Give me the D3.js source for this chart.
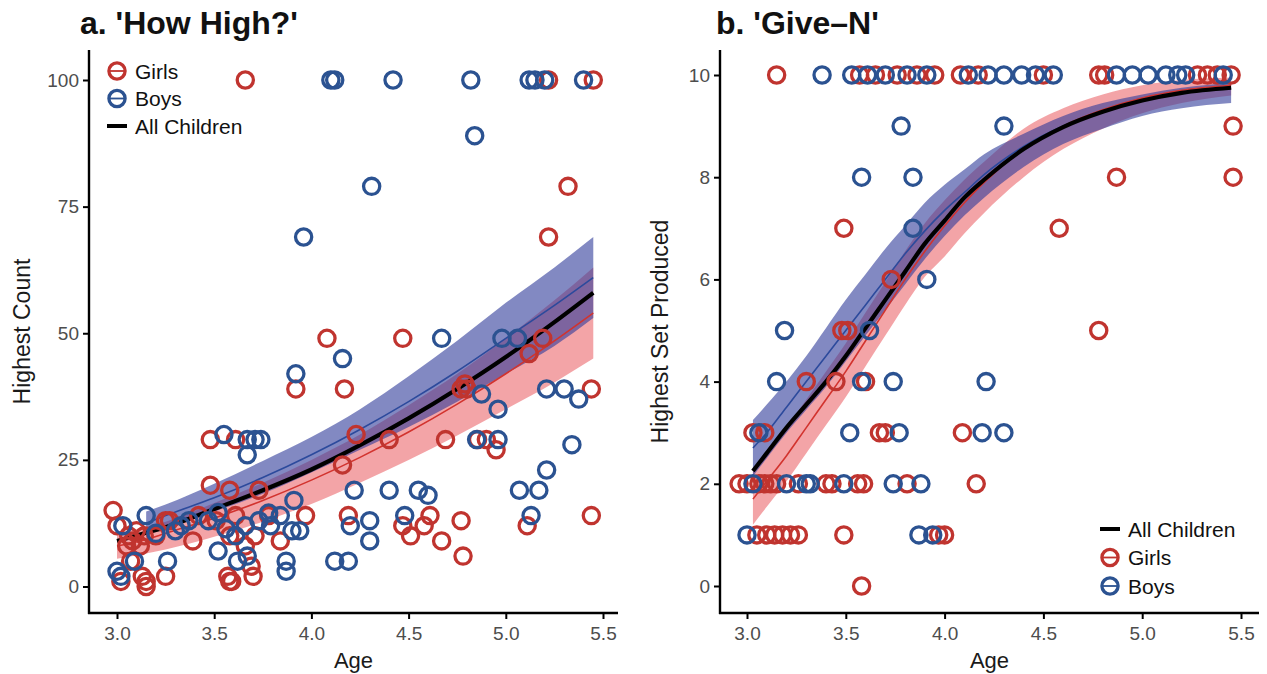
<!DOCTYPE html>
<html><head><meta charset="utf-8">
<script src="https://cdn.jsdelivr.net/npm/d3@7"></script>
<style>
body{margin:0;background:#fff}
text{font-family:"Liberation Sans",Arial,Helvetica,sans-serif}
</style>
</head><body>
<svg id="chart" width="1267" height="674"></svg>
<script>
// ---------- tick labels ----------
const ageTicks = [3.0, 3.5, 4.0, 4.5, 5.0, 5.5];
const countTicks = [0, 25, 50, 75, 100];
const setTicks = [0, 2, 4, 6, 8, 10];

// ---------- panel a: 'How High?' points [age, highest count] ----------
const hhGirls = [[3.66,100],[5.22,100],[5.45,100],[5.32,79],[5.22,69],[4.08,49],[4.47,49],[5.19,49],[5.12,46],
 [3.92,39],[4.17,39],[4.77,39],[4.79,40],[4.80,39],[5.44,39],[4.23,30],[4.40,29],[4.69,29],[4.855,29],[4.90,29],[4.95,27],
 [3.48,29],[3.61,29],[4.16,24],[3.48,20],[3.58,19],[3.73,19],[2.98,15],[3.00,12],[3.06,10],[3.08,9],[3.10,11],[3.12,8],
 [3.14,10],[3.05,8],[3.25,13],[3.27,13],[3.20,10],[3.39,9],[3.42,14],[3.51,13],[3.58,10],[3.61,14],[3.66,8],[3.71,10],
 [3.78,14],[3.84,9],[3.97,14],[4.19,14],[4.47,12],[4.51,10],[4.58,12],[4.61,14],[4.67,9],[4.77,13],[4.78,6],[5.11,12],
 [5.44,14],[3.02,1],[3.07,5],[3.13,2],[3.15,0],[3.15,1],[3.25,2],[3.57,2],[3.58,1],[3.59,1],[3.69,4],[3.70,2]];
const hhBoys = [[4.10,100],[4.12,100],[4.42,100],[4.82,100],[5.12,100],[5.15,100],[5.20,100],[5.40,100],[4.84,89],
 [4.31,79],[3.96,69],[4.67,49],[4.98,49],[5.06,49],[4.16,45],[3.92,42],[4.875,38],[5.21,39],[5.30,39],[5.375,37],[4.96,35],
 [3.55,30],[3.67,29],[3.71,29],[3.74,29],[3.67,26],[4.85,29],[4.96,29],[5.34,28],[5.21,23],[5.07,19],[5.17,19],[4.22,19],
 [4.40,19],[4.55,19],[4.60,18],[3.91,17],[3.15,14],[3.03,12],[3.20,10.5],[3.30,11],[3.33,12],[3.37,13],[3.47,13],
 [3.52,14.6],[3.56,11.4],[3.61,10],[3.66,12],[3.73,13],[3.78,14.5],[3.79,12],[3.84,14],[3.90,11],[3.94,11],[4.48,14],
 [4.20,12],[4.30,13],[4.30,9],[5.13,14],[3.52,7],[3.62,5],[3.67,6],[3.87,5],[3.87,3],[4.12,5],[4.19,5],[3.00,3],[3.02,2],
 [3.09,5],[3.26,5]];

// panel a fitted curves
const hhAge      = [3.0, 3.15, 3.25, 3.5, 3.75, 4.0, 4.25, 4.5, 4.75, 5.0, 5.25, 5.45];
const hhAllFit   = [9, 10.6, 11.7, 15.3, 19, 23.1, 27.9, 33.2, 39, 45.3, 52.2, 58];
const hhGirlFit  = [8, 9.3, 10.5, 13.5, 17, 21, 25.5, 30.5, 36, 42, 48.5, 54];
const hhGirlLo   = [5.5, 6.5, 7.3, 9.8, 12.8, 16.3, 20.5, 25, 29.8, 35, 40.3, 45];
const hhGirlHi   = [10.5, 11.8, 12.8, 16.5, 20.5, 25, 30, 35.8, 42, 49, 56.5, 63];
const hhBoyAge   = [3.15, 3.25, 3.5, 3.75, 4.0, 4.25, 4.5, 4.75, 5.0, 5.25, 5.45];
const hhBoyFit   = [12.5, 14, 17.5, 21.5, 26, 31, 36.5, 42.5, 49, 55.5, 61];
const hhBoyLo    = [10.5, 11.8, 14.8, 18.3, 22.5, 27, 31.5, 36.5, 42, 47.5, 53];
const hhBoyHi    = [14.8, 16.2, 20.3, 24.8, 29.5, 35, 41.5, 48.5, 56, 63, 69];

// ---------- panel b: 'Give-N' points [age, highest set] ----------
const gnGirls = [[3.15,10],[3.57,10],[3.65,10],[3.76,10],[3.86,10],[3.95,10],[4.08,10],[4.17,10],[4.50,10],[4.78,10],
 [4.81,10],[5.28,10],[5.33,10],[5.38,10],[5.45,10],[5.46,9],[4.87,8],[5.46,8],[3.49,7],[4.58,7],[3.73,6],[3.48,5],[3.51,5],
 [4.78,5],[3.30,4],[3.45,4],[3.60,4],[3.03,3],[3.09,3],[3.67,3],[3.70,3],[4.09,3],[2.96,2],[3.00,2],[3.06,2],[3.09,2],
 [3.12,2],[3.15,2],[3.26,2],[3.40,2],[3.43,2],[3.56,2],[3.59,2],[3.81,2],[4.16,2],[3.05,1],[3.10,1],[3.14,1],[3.18,1],
 [3.22,1],[3.26,1],[3.49,1],[3.97,1],[4.00,1],[3.58,0]];
const gnBoys = [[3.38,10],[3.53,10],[3.61,10],[3.70,10],[3.81,10],[3.91,10],[4.12,10],[4.22,10],[4.30,10],[4.39,10],
 [4.46,10],[4.55,10],[4.87,10],[4.95,10],[5.03,10],[5.12,10],[5.18,10],[5.22,10],[5.41,10],[3.78,9],[4.30,9],[3.58,8],
 [3.84,8],[3.84,7],[3.91,6],[3.19,5],[3.62,5],[3.15,4],[3.58,4],[3.74,4],[4.21,4],[3.06,3],[3.52,3],[3.77,3],[4.19,3],
 [4.30,3],[3.03,2],[3.20,2],[3.30,2],[3.32,2],[3.49,2],[3.74,2],[3.88,2],[3.00,1],[3.87,1],[3.94,1]];

// panel b fitted curves
const gnAge     = [3.03, 3.1, 3.2, 3.3, 3.4, 3.5, 3.6, 3.7, 3.8, 3.9, 4.0, 4.1, 4.2, 4.4, 4.6, 4.8, 5.0, 5.2, 5.45];
const gnAllFit  = [2.25, 2.6, 3.1, 3.55, 4.0, 4.5, 5.05, 5.6, 6.15, 6.7, 7.15, 7.6, 7.95, 8.55, 8.98, 9.28, 9.5, 9.65, 9.75];
const gnBoyFit  = [2.7, 3.0, 3.5, 4.0, 4.5, 5.0, 5.5, 6.0, 6.5, 6.95, 7.35, 7.7, 8.05, 8.6, 9.0, 9.28, 9.5, 9.65, 9.73];
const gnGirlFit = [1.7, 2.05, 2.55, 3.1, 3.65, 4.2, 4.8, 5.4, 6.0, 6.55, 7.05, 7.5, 7.9, 8.55, 9.0, 9.32, 9.55, 9.7, 9.8];
const gnBoyLo   = [2.15, 2.5, 3.0, 3.45, 3.9, 4.4, 4.9, 5.4, 5.9, 6.4, 6.85, 7.25, 7.6, 8.2, 8.65, 8.95, 9.2, 9.35, 9.45];
const gnBoyHi   = [3.25, 3.55, 4.0, 4.5, 5.05, 5.6, 6.1, 6.6, 7.05, 7.5, 7.85, 8.15, 8.45, 8.85, 9.2, 9.45, 9.62, 9.75, 9.85];
const gnGirlLo  = [1.2, 1.55, 2.05, 2.6, 3.15, 3.7, 4.3, 4.9, 5.5, 6.05, 6.45, 6.9, 7.3, 8.0, 8.55, 8.95, 9.25, 9.45, 9.6];
const gnGirlHi  = [2.25, 2.6, 3.1, 3.65, 4.2, 4.75, 5.35, 5.95, 6.55, 7.1, 7.55, 7.95, 8.3, 8.95, 9.35, 9.62, 9.8, 9.9, 9.95];

// ---------- styles ----------
const RED = "#c0342f", BLUE = "#2b5291";
const RED_LINE = "#d2332e", BLUE_LINE = "#2c4a9c";
const RED_FILL = "#ea5a5f", BLUE_FILL = "#2e3a9a";
const PT_R = 8.1, PT_W = 3.3;

const svg = d3.select("#chart");

function drawPanel(cfg) {
  const g = svg.append("g");
  const x = d3.scaleLinear().domain([3.0, 5.5]).range(cfg.xr);
  const y = d3.scaleLinear().domain(cfg.yd).range(cfg.yr);
  const zip = (ax, ay) => ax.map((a, i) => [a, ay[i]]);

  const area = d3.area().x(d => x(d[0])).y0(d => y(d[1])).y1(d => y(d[2])).curve(d3.curveMonotoneX);
  const line = d3.line().x(d => x(d[0])).y(d => y(d[1])).curve(d3.curveMonotoneX);

  // ribbons
  g.append("path").datum(cfg.girlAge.map((a, i) => [a, cfg.girlLo[i], cfg.girlHi[i]]))
    .attr("d", area).attr("fill", RED_FILL).attr("fill-opacity", 0.55);
  g.append("path").datum(cfg.boyAge.map((a, i) => [a, cfg.boyLo[i], cfg.boyHi[i]]))
    .attr("d", area).attr("fill", BLUE_FILL).attr("fill-opacity", 0.6);
  // lines
  g.append("path").datum(zip(cfg.girlAge, cfg.girlFit)).attr("d", line)
    .attr("fill", "none").attr("stroke", RED_LINE).attr("stroke-width", 1.6);
  g.append("path").datum(zip(cfg.boyAge, cfg.boyFit)).attr("d", line)
    .attr("fill", "none").attr("stroke", BLUE_LINE).attr("stroke-width", 1.6);
  g.append("path").datum(zip(cfg.allAge, cfg.allFit)).attr("d", line)
    .attr("fill", "none").attr("stroke", "#000").attr("stroke-width", 4.2);

  // points
  g.append("g").selectAll("circle").data(cfg.girls).join("circle")
    .attr("cx", d => x(d[0])).attr("cy", d => y(d[1])).attr("r", PT_R)
    .attr("fill", "none").attr("stroke", RED).attr("stroke-width", PT_W);
  g.append("g").selectAll("circle").data(cfg.boys).join("circle")
    .attr("cx", d => x(d[0])).attr("cy", d => y(d[1])).attr("r", PT_R)
    .attr("fill", "none").attr("stroke", BLUE).attr("stroke-width", PT_W);

  // axes
  const b = cfg.box;
  const xa = g.append("g").attr("transform", `translate(0,${b.bottom})`)
    .call(d3.axisBottom(x).tickValues(ageTicks).tickFormat(d3.format(".1f")).tickSize(6).tickPadding(8));
  const ya = g.append("g").attr("transform", `translate(${b.left},0)`)
    .call(d3.axisLeft(y).tickValues(cfg.yTicks).tickFormat(d3.format("d")).tickSize(6).tickPadding(4));
  [xa, ya].forEach(a => {
    a.select(".domain").remove();
    a.selectAll("line").attr("stroke", "#000").attr("stroke-width", 2);
    a.selectAll("text").attr("font-size", 19).attr("fill", "#4d4d4d")
      .attr("font-family", '"Liberation Sans",Arial,sans-serif');
  });
  g.append("line").attr("x1", b.left).attr("x2", b.left).attr("y1", b.top).attr("y2", b.bottom + 1)
    .attr("stroke", "#000").attr("stroke-width", 2.4);
  g.append("line").attr("x1", b.left - 1).attr("x2", b.right).attr("y1", b.bottom).attr("y2", b.bottom)
    .attr("stroke", "#000").attr("stroke-width", 2.4);

  // axis titles
  g.append("text").attr("x", (b.left + b.right) / 2).attr("y", 668).attr("text-anchor", "middle")
    .attr("font-size", 22).attr("fill", "#1a1a1a").text("Age");
  g.append("text").attr("transform", `translate(${cfg.yTitleX},${(b.top + b.bottom) / 2}) rotate(-90)`)
    .attr("text-anchor", "middle").attr("font-size", 23).attr("fill", "#1a1a1a").text(cfg.yTitle);
  // panel title
  g.append("text").attr("x", cfg.titleX).attr("y", 34).attr("font-size", 32).attr("font-weight", "bold")
    .attr("fill", "#111").text(cfg.title);

  // legend
  const lg = g.append("g");
  cfg.legend.items.forEach((it, i) => {
    const cy = cfg.legend.y0 + i * cfg.legend.dy;
    const cx = cfg.legend.x;
    if (it.type === "line") {
      lg.append("line").attr("x1", cx - 10).attr("x2", cx + 10).attr("y1", cy).attr("y2", cy)
        .attr("stroke", "#000").attr("stroke-width", 4);
    } else {
      lg.append("line").attr("x1", cx - 8).attr("x2", cx + 8).attr("y1", cy).attr("y2", cy)
        .attr("stroke", it.color).attr("stroke-width", 1.8);
      lg.append("circle").attr("cx", cx).attr("cy", cy).attr("r", PT_R)
        .attr("fill", "none").attr("stroke", it.color).attr("stroke-width", PT_W);
    }
    lg.append("text").attr("x", cx + 18).attr("y", cy + 7.5).attr("font-size", 21).attr("fill", "#111").text(it.label);
  });
}

drawPanel({
  xr: [117, 603], yd: [0, 100], yr: [586.5, 80], yTicks: countTicks,
  box: {left: 89, right: 618, top: 50, bottom: 613},
  girls: hhGirls, boys: hhBoys,
  allAge: hhAge, allFit: hhAllFit,
  girlAge: hhAge, girlFit: hhGirlFit, girlLo: hhGirlLo, girlHi: hhGirlHi,
  boyAge: hhBoyAge, boyFit: hhBoyFit, boyLo: hhBoyLo, boyHi: hhBoyHi,
  yTitle: "Highest Count", yTitleX: 30, title: "a. 'How High?'", titleX: 80,
  legend: {x: 117, y0: 71, dy: 27.5, items: [
    {type: "pt", color: RED, label: "Girls"},
    {type: "pt", color: BLUE, label: "Boys"},
    {type: "line", label: "All Children"}]}
});

drawPanel({
  xr: [747, 1241], yd: [0, 10], yr: [586, 75], yTicks: setTicks,
  box: {left: 720, right: 1259, top: 50, bottom: 613},
  girls: gnGirls, boys: gnBoys,
  allAge: gnAge, allFit: gnAllFit,
  girlAge: gnAge, girlFit: gnGirlFit, girlLo: gnGirlLo, girlHi: gnGirlHi,
  boyAge: gnAge, boyFit: gnBoyFit, boyLo: gnBoyLo, boyHi: gnBoyHi,
  yTitle: "Highest Set Produced", yTitleX: 668, title: "b. 'Give\u2013N'", titleX: 716,
  legend: {x: 1110, y0: 529, dy: 28.5, items: [
    {type: "line", label: "All Children"},
    {type: "pt", color: RED, label: "Girls"},
    {type: "pt", color: BLUE, label: "Boys"}]}
});
</script>
</body></html>
